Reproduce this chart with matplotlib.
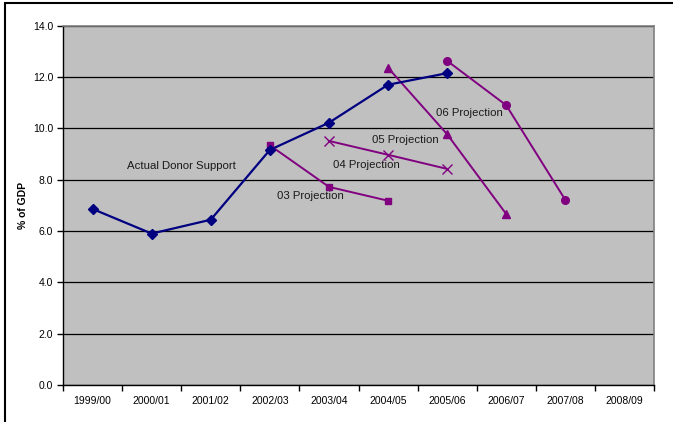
import matplotlib
matplotlib.use("Agg")
import matplotlib.pyplot as plt
from matplotlib.patches import Rectangle
import numpy as np

categories = ["1999/00", "2000/01", "2001/02", "2002/03", "2003/04",
              "2004/05", "2005/06", "2006/07", "2007/08", "2008/09"]

actual_idx = [0, 1, 2, 3, 4, 5, 6]
actual_vals = [6.86, 5.90, 6.44, 9.16, 10.22, 11.70, 12.15]

proj03_idx = [3, 4, 5]
proj03_vals = [9.34, 7.72, 7.18]

proj04_idx = [4, 5, 6]
proj04_vals = [9.51, 8.97, 8.42]

proj05_idx = [5, 6, 7]
proj05_vals = [12.36, 9.77, 6.66]

proj06_idx = [6, 7, 8]
proj06_vals = [12.63, 10.90, 7.21]

yticks = [0.0, 2.0, 4.0, 6.0, 8.0, 10.0, 12.0, 14.0]

plt.rcParams['font.family'] = ['Liberation Sans', 'DejaVu Sans']

fig = plt.figure(figsize=(6.73, 4.22), dpi=100)
ax = fig.add_axes([63/673, 37/422, 591/673, (385-25.7)/422])
ax.set_facecolor('#C0C0C0')

navy = '#000080'
purple = '#800080'

ax.plot(actual_idx, actual_vals, color=navy, lw=1.6, marker='D', ms=5, zorder=5)
ax.plot(proj03_idx, proj03_vals, color=purple, lw=1.4, marker='s', ms=5, zorder=4)
ax.plot(proj04_idx, proj04_vals, color=purple, lw=1.4, marker='x', ms=7, mew=1.0, zorder=4)
ax.plot(proj05_idx, proj05_vals, color=purple, lw=1.4, marker='^', ms=6, zorder=4)
ax.plot(proj06_idx, proj06_vals, color=purple, lw=1.4, marker='o', ms=5.5, zorder=4)

fs = 7.5
lfs = 8.2
ax.text(1.5, 8.53, "Actual Donor Support", ha='center', va='center', fontsize=lfs, color='#1a1a1a')
ax.text(3.68, 7.37, "03 Projection", ha='center', va='center', fontsize=lfs, color='#1a1a1a')
ax.text(4.63, 8.57, "04 Projection", ha='center', va='center', fontsize=lfs, color='#1a1a1a')
ax.text(5.30, 9.55, "05 Projection", ha='center', va='center', fontsize=lfs, color='#1a1a1a')
ax.text(6.37, 10.6, "06 Projection", ha='center', va='center', fontsize=lfs, color='#1a1a1a')

ax.set_xlim(-0.5, 9.5)
ax.set_ylim(0, 14)
ax.set_yticks(yticks)
ax.set_yticklabels([f"{v:.1f}" for v in yticks], fontsize=fs)
ax.yaxis.grid(True, color='black', lw=0.9)
ax.set_axisbelow(True)

ax.set_xticks(range(len(categories)))
ax.set_xticklabels(categories, fontsize=fs)
ax.tick_params(axis='x', which='major', length=0, pad=8)
ax.set_xticks(np.arange(-0.5, 10.0, 1.0), minor=True)
ax.tick_params(axis='x', which='minor', length=4, width=1, direction='out')
ax.tick_params(axis='y', length=4, width=1, direction='out', pad=3)

for s in ['top', 'right']:
    ax.spines[s].set_color('#808080')
    ax.spines[s].set_linewidth(1.2)
for s in ['left', 'bottom']:
    ax.spines[s].set_color('black')
    ax.spines[s].set_linewidth(1.0)

ax.set_ylabel("% of GDP", fontsize=fs, fontweight='bold')
ax.yaxis.set_label_coords((28 - 63) / 591, 0.5)

border = Rectangle((5/673, -0.05), 1.1, (422-3)/422 + 0.05, transform=fig.transFigure,
                   fill=False, edgecolor='black', lw=1.5, clip_on=False)
fig.patches.append(border)

fig.savefig("out.png", dpi=100)
